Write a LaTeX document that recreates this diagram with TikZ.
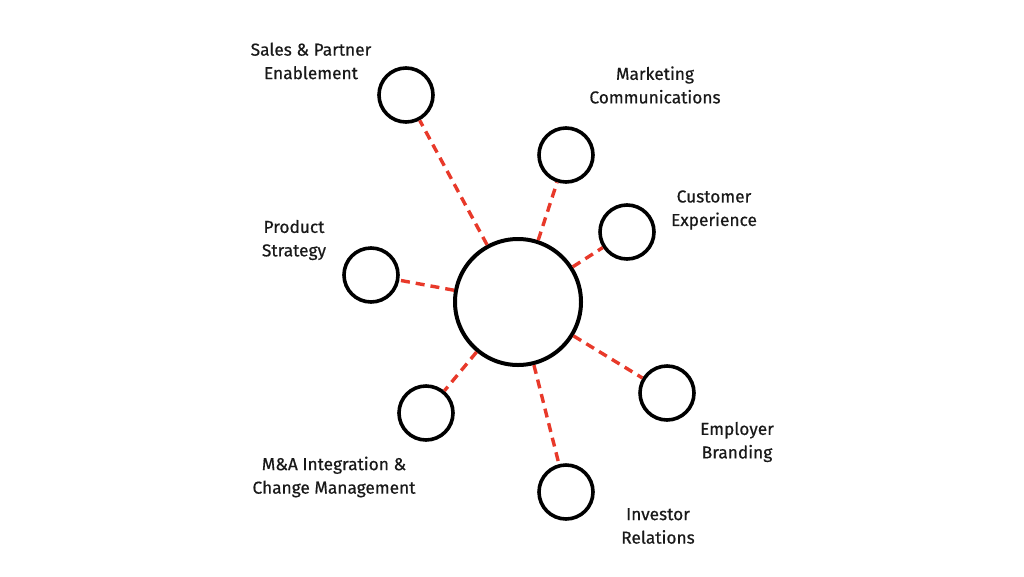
\documentclass[tikz,border=0pt]{standalone}
\usepackage{fontspec}
\setmainfont{Fira Sans}
\newfontfamily\lblfont[FakeBold=0.5]{Fira Sans}
\definecolor{dashred}{HTML}{E8392A}
\begin{document}
\begin{tikzpicture}[x=1pt,y=-1pt,
  hub/.style={circle,draw=black,line width=4pt,minimum size=126pt,inner sep=0pt},
  spoke/.style={circle,draw=black,line width=3.6pt,minimum size=54pt,inner sep=0pt},
  link/.style={draw=dashred,line width=3.4pt,dash pattern=on 9pt off 6pt},
  lbl/.style={align=center,font=\lblfont\fontsize{17.3}{23.5}\selectfont,text=black!90}]
\useasboundingbox (0,0) rectangle (1024,576);
\node[hub] (c) at (518,302) {};
\node[spoke] (s1) at (406,95) {};
\node[spoke] (s2) at (566,155) {};
\node[spoke] (s3) at (627,232) {};
\node[spoke] (s4) at (371,275) {};
\node[spoke] (s5) at (426,413) {};
\node[spoke] (s6) at (667,393) {};
\node[spoke] (s7) at (566,492) {};
\foreach \i in {1,...,7} {\draw[link] (c) -- (s\i);}
\node[lbl] (t1) at (311,61) {Sales \& Partner\\Enablement};
\node[lbl] (t2) at (655,85) {Marketing\\Communications};
\node[lbl] (t3) at (714,210) {Customer\\Experience};
\node[lbl] (t4) at (294,240) {Product\\Strategy};
\node[lbl] (t5) at (334,477) {M\&A Integration \&\\Change Management};
\node[lbl] (t6) at (737,442) {Employer\\Branding};
\node[lbl] (t7) at (658,526) {Investor\\Relations};
\end{tikzpicture}
\end{document}
